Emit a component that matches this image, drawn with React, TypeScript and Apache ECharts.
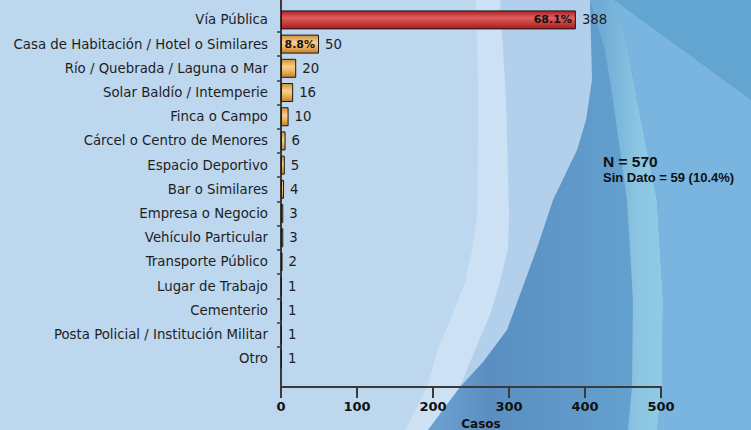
import React, { useEffect, useRef } from "react";
import * as echarts from "echarts";

// ---- data ----
const categories = [
  "Vía Pública",
  "Casa de Habitación / Hotel o Similares",
  "Río / Quebrada / Laguna o Mar",
  "Solar Baldío / Intemperie",
  "Finca o Campo",
  "Cárcel o Centro de Menores",
  "Espacio Deportivo",
  "Bar o Similares",
  "Empresa o Negocio",
  "Vehículo Particular",
  "Transporte Público",
  "Lugar de Trabajo",
  "Cementerio",
  "Posta Policial / Institución Militar",
  "Otro",
];
const values = [388, 50, 20, 16, 10, 6, 5, 4, 3, 3, 2, 1, 1, 1, 1];
const percentLabels = ["68.1%", "8.8%", "", "", "", "", "", "", "", "", "", "", "", "", ""];
const xMin = 0;
const xMax = 500;
const xInterval = 100;
const axisName = "Casos";
const noteMain = "N = 570";
const noteSub = "Sin Dato = 59 (10.4%)";

const FONT = "DejaVu Sans";
const AXIS_COLOR = "#3a3a3a";

// plot geometry
const GRID_LEFT = 281;
const GRID_RIGHT = 90;
const CAT_TOP = 7.8;
const CAT_BOTTOM = 59.1;
const BAND = (430 - CAT_TOP - CAT_BOTTOM) / categories.length;

function bgElements() {
  const lightLeft = [
    [476, 0], [478, 100], [477, 215], [472, 250], [465, 282], [452, 315], [438, 348], [427, 387], [405, 430],
  ];
  const lightRight = [
    [500, 0], [506, 100], [509, 215], [508, 248], [500, 282], [490, 315], [475, 350], [460, 387], [428, 430],
  ];
  const darkEdge = [
    [590, 0], [592, 80], [586, 120], [577, 150], [553, 200], [537, 248], [507, 330], [483, 362], [460, 387], [428, 430],
  ];
  const cyanLeft = [
    [590, 0], [605, 50], [613, 100], [627, 200], [633, 300], [632, 387], [628, 430],
  ];
  const cyanRight = [
    [615, 0], [628, 50], [637, 100], [657, 200], [663, 300], [662, 387], [657, 430],
  ];
  const toRight = (pts: number[][]) => [...pts, [760, 440], [760, -10]];
  const band = (a: number[][], b: number[][]) => [...a, ...[...b].reverse()];
  return [
    { type: "rect", z: -100, shape: { x: 0, y: 0, width: 751, height: 430 }, style: { fill: "#bdd7ef" }, silent: true },
    { type: "polygon", z: -99, shape: { points: toRight(lightLeft) }, style: { fill: "#b2d0eb" }, silent: true },
    { type: "polygon", z: -98, shape: { points: band(lightLeft, lightRight) }, style: { fill: "#cce2f4" }, silent: true },
    {
      type: "polygon", z: -97, shape: { points: toRight(darkEdge) },
      style: {
        fill: new echarts.graphic.LinearGradient(440, 0, 640, 0, [
          { offset: 0, color: "#6b9fd0" },
          { offset: 0.25, color: "#5a8ec2" },
          { offset: 1, color: "#64a2cf" },
        ], true),
      },
      silent: true,
    },
    {
      type: "polygon", z: -96, shape: { points: band(cyanLeft, cyanRight) },
      style: {
        fill: new echarts.graphic.LinearGradient(600, 0, 665, 0, [
          { offset: 0, color: "#6eabd5" },
          { offset: 0.6, color: "#8cc6e2" },
          { offset: 1, color: "#90cae4" },
        ], true),
      },
      silent: true,
    },
    { type: "polygon", z: -95, shape: { points: toRight(cyanRight) }, style: { fill: "#79b5df" }, silent: true },
    { type: "polygon", z: -94, shape: { points: [[614, 0], [760, -10], [760, 108], [751, 100]] }, style: { fill: "#62a5d1" }, silent: true },
  ];
}

export default function App() {
  const ref = useRef<HTMLDivElement>(null);

  useEffect(() => {
    if (!ref.current) return;
    const chart = echarts.init(ref.current, null, { renderer: "svg" });

    const red = new echarts.graphic.LinearGradient(0, 0, 0, 1, [
      { offset: 0, color: "#ab2020" },
      { offset: 0.38, color: "#e05f5f" },
      { offset: 0.6, color: "#d24444" },
      { offset: 1, color: "#a31c1c" },
    ]);
    const orange = new echarts.graphic.LinearGradient(0, 0, 0, 1, [
      { offset: 0, color: "#cf8f3c" },
      { offset: 0.4, color: "#f9cf88" },
      { offset: 0.6, color: "#f1bc6a" },
      { offset: 1, color: "#c1812d" },
    ]);

    const gridBase = { left: GRID_LEFT, right: GRID_RIGHT, outerBoundsMode: "none", containLabel: false };

    const option: any = {
      animation: false,
      backgroundColor: "#bdd7ef",
      graphic: {
        elements: [
          ...bgElements(),
          {
            type: "text", z: 100, left: 603, top: 153,
            style: { text: noteMain, font: "bold 15.5px 'Liberation Sans', Arial, sans-serif", fill: "#111" },
          },
          {
            type: "text", z: 100, left: 603, top: 170.8,
            style: { text: noteSub, font: "bold 13px 'Liberation Sans', Arial, sans-serif", fill: "#111" },
          },
        ],
      },
      grid: [
        { ...gridBase, top: CAT_TOP, bottom: CAT_BOTTOM },
        { ...gridBase, top: 0, bottom: 43 },
        // separators between categories
        { ...gridBase, top: CAT_TOP + BAND, bottom: CAT_BOTTOM + BAND },
      ],
      xAxis: [
        { gridIndex: 0, type: "value", min: xMin, max: xMax, interval: xInterval, show: false },
        {
          gridIndex: 1, type: "value", min: xMin, max: xMax, interval: xInterval,
          axisLine: { show: true, lineStyle: { color: AXIS_COLOR, width: 2 } },
          axisTick: { show: true, length: 11, lineStyle: { color: AXIS_COLOR, width: 2 } },
          axisLabel: { fontFamily: FONT, fontWeight: "bold", fontSize: 13, color: "#111", margin: 13 },
          splitLine: { show: false },
          name: axisName, nameLocation: "middle", nameGap: 31,
          nameTextStyle: { fontFamily: FONT, fontWeight: "bold", fontSize: 12, color: "#111", padding: [0, 0, 0, 20] },
        },
        { gridIndex: 2, type: "value", min: xMin, max: xMax, interval: xInterval, show: false },
      ],
      yAxis: [
        {
          gridIndex: 0, type: "category", data: categories, inverse: true,
          axisLine: { show: false },
          axisTick: { show: false },
          axisLabel: { fontFamily: FONT, fontSize: 13.3, color: "#1e1e1e", margin: 13 },
        },
        {
          gridIndex: 1, type: "value", min: 0, max: 1,
          axisLine: { show: true, lineStyle: { color: AXIS_COLOR, width: 2 } },
          axisTick: { show: false }, axisLabel: { show: false }, splitLine: { show: false },
        },
        {
          gridIndex: 2, type: "category", data: categories.slice(1), inverse: true, boundaryGap: false,
          axisLine: { show: false },
          axisTick: { show: true, length: 4, lineStyle: { color: AXIS_COLOR, width: 1.5 } },
          axisLabel: { show: false },
          splitLine: { show: false },
        },
      ],
      series: [
        {
          type: "bar", xAxisIndex: 0, yAxisIndex: 0, barWidth: 19,
          data: values.map((v, i) => ({ value: v, itemStyle: { color: i === 0 ? red : orange } })),
          itemStyle: { borderColor: "#1a1a1a", borderWidth: 1 },
          label: { show: true, position: "right", distance: 6, fontFamily: FONT, fontSize: 13.3, color: "#1e1e1e" },
        },
        {
          type: "bar", xAxisIndex: 0, yAxisIndex: 0, barWidth: 19, barGap: "-100%", z: 3, silent: true,
          data: values,
          itemStyle: { color: "transparent" },
          label: {
            show: true, position: "insideRight", distance: 4,
            formatter: (p: any) => percentLabels[p.dataIndex],
            fontFamily: FONT, fontWeight: "bold", fontSize: 11, color: "#111",
          },
        },
      ],
    };

    chart.setOption(option);
    return () => chart.dispose();
  }, []);

  return (
    <div
      ref={ref}
      style={{ position: "fixed", left: 0, top: 0, width: 751, height: 430 }}
    />
  );
}
